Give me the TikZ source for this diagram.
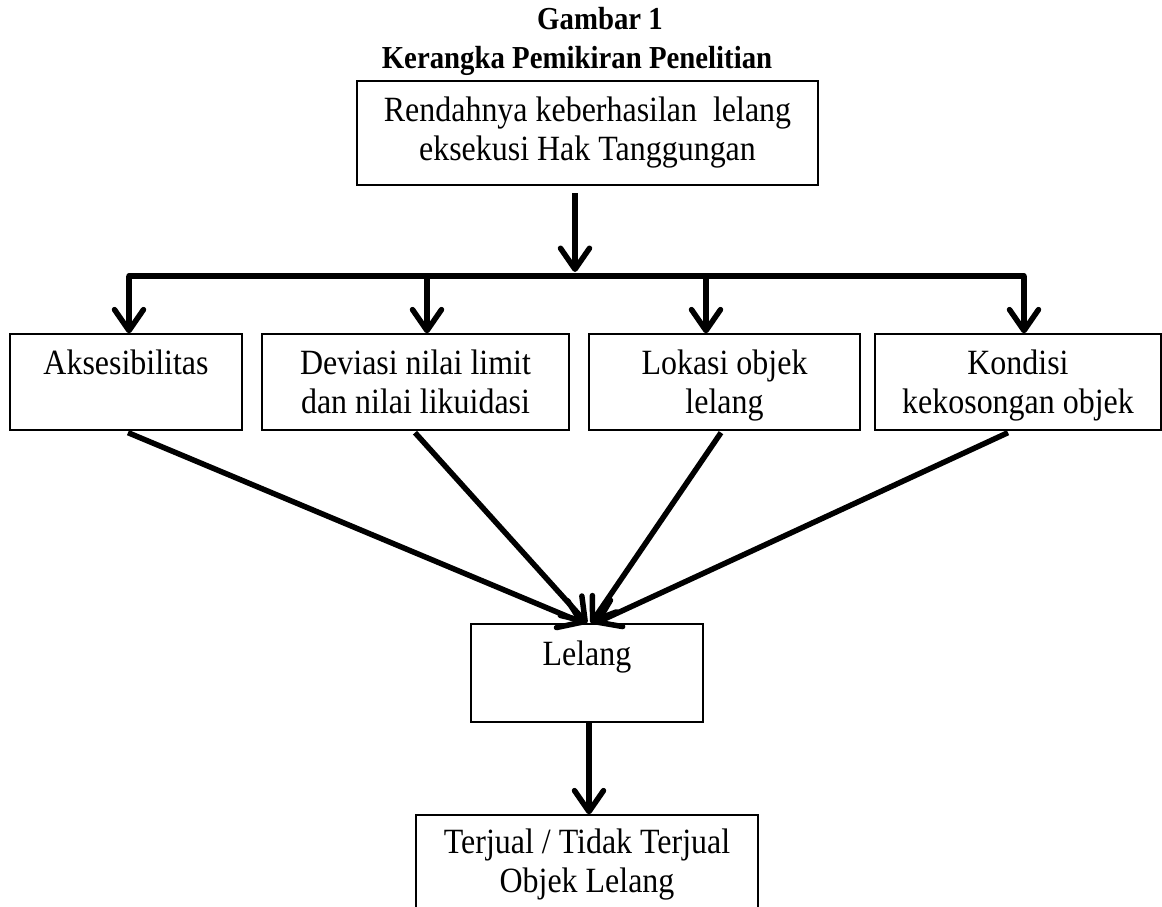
\documentclass[tikz,border=0pt]{standalone}
\usepackage{fontspec}
\setmainfont[FakeStretch=0.9]{Liberation Serif}
\usetikzlibrary{arrows.meta}
\newcommand{\tallstrut}{\rule{0pt}{36pt}}
\tikzset{
  box/.style={draw, line width=1.3pt, inner sep=0pt, align=center,
    font=\fontsize{35.5}{39}\selectfont},
  ttl/.style={font=\bfseries\fontsize{32}{34}\selectfont, inner sep=0pt, anchor=base},
  thick arrow/.style={line width=5.5pt,
    -{Straight Barb[length=21pt, width=29pt, line width=5.5pt, round]}},
  barline/.style={line width=5.5pt}
}
\begin{document}
\begin{tikzpicture}[x=1pt, y=-1pt]
\clip (0,0) rectangle (1162,907);
\fill[white] (0,0) rectangle (1162,907);

% titles
\node[ttl] (t1) at (600,30) {Gambar 1};
\node[ttl] (t2) at (577,69) {Kerangka Pemikiran Penelitian};

% boxes
\node[box, minimum width=461pt, minimum height=104pt] (top) at (587.5,133)
  {\strut Rendahnya keberhasilan \ lelang\strut\\ \strut eksekusi Hak Tanggungan\strut};
\node[box, minimum width=232pt, minimum height=96pt] (aks) at (126,382)
  {\tallstrut Aksesibilitas\strut\\ \strut};
\node[box, minimum width=307pt, minimum height=96pt] (dev) at (415.5,382)
  {\tallstrut Deviasi nilai limit\strut\\ \strut dan nilai likuidasi\strut};
\node[box, minimum width=271pt, minimum height=96pt] (lok) at (724.5,382)
  {\tallstrut Lokasi objek\strut\\ \strut lelang\strut};
\node[box, minimum width=286pt, minimum height=96pt] (kon) at (1018,382)
  {\tallstrut Kondisi\strut\\ \strut kekosongan objek\strut};
\node[box, minimum width=232pt, minimum height=98pt] (lel) at (587,673)
  {\tallstrut Lelang\strut\\ \strut};
\node[box, minimum width=342pt, minimum height=100pt] (bot) at (587,865)
  {\strut Terjual / Tidak Terjual\strut\\ \strut Objek Lelang\strut};

% top arrow onto the bar
\coordinate (tstart) at (575,193);
\coordinate (tend) at (575,272);
\draw[thick arrow] (tstart) -- (tend);

% distribution bar
\coordinate (b1) at (129,276);
\coordinate (b2) at (427,276);
\coordinate (b3) at (706,276);
\coordinate (b4) at (1024,276);
\draw[barline, line cap=round] (b1) -- (b4);
\draw[thick arrow] (b1) -- (b1 |- aks.north);
\draw[thick arrow] (b2) -- (b2 |- dev.north);
\draw[thick arrow] (b3) -- (b3 |- lok.north);
\draw[thick arrow] (b4) -- (b4 |- kon.north);

% converging arrows
\draw[thick arrow] ([xshift=2pt,yshift=-2pt]aks.south) -- ([xshift=-3pt]lel.north);
\draw[thick arrow] ([xshift=-0.5pt,yshift=-2pt]dev.south) -- ([xshift=0pt]lel.north);
\draw[thick arrow] ([xshift=-3.5pt,yshift=-2pt]lok.south) -- ([xshift=4pt]lel.north);
\draw[thick arrow] ([xshift=-10pt,yshift=-2pt]kon.south) -- ([xshift=8pt]lel.north);

% final arrow
\draw[thick arrow] ([xshift=2pt]lel.south) -- ([xshift=2pt]bot.north);
\end{tikzpicture}
\end{document}
